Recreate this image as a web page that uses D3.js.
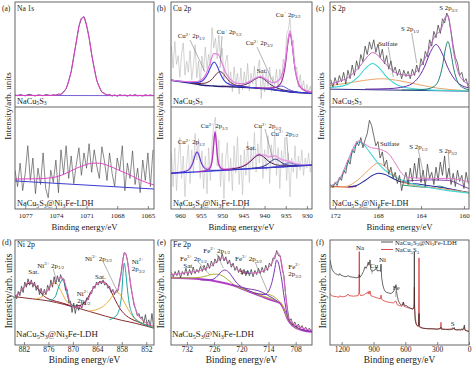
<!DOCTYPE html>
<html><head><meta charset="utf-8">
<script src="https://cdn.jsdelivr.net/npm/d3@7/dist/d3.min.js"></script>
<style>body{margin:0;background:#fff}svg text{font-family:"Liberation Serif","DejaVu Serif",serif;white-space:pre;fill:#222}</style>
</head><body><script>
// ---------------- DATA (normalised intensity, arb. units 0-100 per sub-panel) ----------------
const ticksA=[1077,1074,1071,1068,1065], ticksB=[960,955,950,945,940,935,930], ticksC=[172,168,164,160];
const ticksD=[882,876,870,864,858,852], ticksE=[732,726,720,714,708], ticksF=[1200,900,600,300,0];
const gridNaTop=[1078,-0.25], gridNaBot=[1078,-0.25], gridCuTop=[962,-0.4], gridCuBot=[962,-0.4];
const gridSTop=[172.4,-0.2], gridSBot=[172.4,-0.2], gridNi=[884.2,-0.4], gridFe=[735.4,-0.4];
// (a) Na 1s
const rawNaTop=[11.5,10.8,11.9,11.2,10.6,11.8,12.1,11.0,10.5,11.6,11.3,10.7,11.9,11.4,10.9,11.7,11.3,12.4,12.0,14.9,17.2,25.0,33.5,48.6,61.8,77.0,84.0,86.2,77.5,66.3,49.8,37.5,25.1,19.4,14.0,13.1,11.2,12.0,10.4,11.5,10.2,11.8,10.9,11.4,10.3,11.6,10.8,11.9,10.6,11.2,10.4,11.7,10.9,11.5,10.8];
const fitNaTop=[[1078,11],[1074.5,11],[1074,11.2],[1073.75,11.5],[1073.5,12.2],[1073.25,14],[1073,17.7],[1072.75,24.1],[1072.5,34.2],[1072.25,47.5],[1072,62.5],[1071.75,76],[1071.5,84.5],[1071.25,85.3],[1071,78.3],[1070.75,65.5],[1070.5,50.5],[1070.25,36.6],[1070,25.8],[1069.75,18.7],[1069.5,14.6],[1069.25,12.5],[1069,11.6],[1068.5,11.1],[1068,11],[1064.4,11]];
const baseNaTop=[[1078,11],[1064.4,10.8]];
const rawNaBot=[38,22,45,18,35,62,28,50,15,40,24,55,20,11,38,26,48,16,58,34,62,30,52,25,44,60,33,55,40,64,36,58,42,30,61,47,28,55,35,22,50,38,62,18,45,30,57,24,40,16,48,28,55,22,58];
const fitNaBot=[[1078,29.4],[1076,29.6],[1074.5,30.5],[1073.5,33],[1072.5,37.5],[1071.5,42],[1070.5,44.8],[1070,45],[1069.5,44.5],[1068.5,41],[1067.5,36.5],[1067,34.5],[1066,29.5],[1065,25.5],[1064.4,23.5]];
const baseNaBot=[[1078,27.5],[1064.4,19.6]];
// (b) Cu 2p
const rawCuTop=[57.7,37.1,62.4,40.6,48.9,28.2,50.6,61,30.4,43.7,33.1,53.6,26.1,39.7,59.2,27.8,43.8,20.8,48.5,34.6,57.1,36.6,50.1,39.9,75.5,56.3,65.6,45.9,68.4,45.2,56.1,26.6,43.2,49.5,22.6,33.5,14.8,38.2,20.9,32.1,12.3,37.2,16.2,33.5,21,41.5,15.3,32,21.9,39,16.8,36.3,44.8,8,31.9,14.25,36,20,38.2,14.6,29.2,20.6,36.1,16.9,35.9,25.6,45.6,36.6,69.2,73.4,84.5,58.3,63.4,33.3,38,19,30.7,16.6,25.1,13.3,21.5,14.1,19.8,12.35];
const envCuTop=[[962.1,25.7],[960,24.7],[958,24.1],[956,24.3],[955,25.6],[954,30.1],[953,40.1],[952,50.8],[951,50.2],[950,41.1],[949,31.2],[948,26],[947,23.1],[946,22.25],[945,22.2],[944,23.5],[943,25.35],[942,27.8],[941,28.85],[940,27.25],[939,24.5],[938,23.15],[937,24.4],[936,29.6],[935.5,35.95],[935,47.25],[934.5,63.55],[934,72.55],[933.5,61.65],[933,43.2],[932.5,30.5],[932,23],[931,17.5],[930,15.5],[928.8,14.35]];
const baseCuTop=[[962.1,25.5],[958,23],[955,21],[952,20],[948,19.2],[944,18.5],[940,17.5],[936,15.5],[933,14],[928.8,13]];
const cu2p12Top=[[962.1,25.5],[960.9,25.0],[957.9,23.6],[956.4,23.3],[954.9,24.4],[954.15,27.1],[953.4,31.9],[952.65,38.9],[951.9,42.8],[951.15,38.5],[950.4,31.1],[949.65,25.9],[948.9,22.8],[947.4,20.5],[945.9,19.5],[942.9,18.5],[938,16.5],[933,14],[928.8,13]];
const cu1p12Top=[[957.5,23.1],[955.75,22.3],[954,22.8],[953.1,24.3],[952.25,27.1],[951.4,31.4],[950.5,33.7],[949.6,31.0],[948.75,26.4],[947.9,23.1],[947,21.1],[945.25,19.6],[943.5,18.8]];
const satCuTop=[[950.1,19.8],[947.85,19.8],[945.6,20.4],[944.5,21.5],[943.35,23.6],[942.2,26.6],[941.1,28.3],[940,26.1],[938.85,22.2],[937.7,19.3],[936.6,17.4],[934.35,15.4],[932.1,14.1]];
const cu2p32Top=[[940.4,17.9],[938.9,17.7],[937.4,18.45],[936.65,19.5],[935.9,19.95],[935.15,18.8],[934.4,16.95],[932.9,14.7],[931.4,13.9]];
const cu1p32Top=[[942,18.3],[940,18.05],[938,18.2],[937,19.3],[936,23.8],[935.5,30.75],[935,42.75],[934.5,60.25],[934,70],[933.5,59.75],[933,41.75],[932.5,29.4],[932,22.1],[931,16.8],[930,15],[928.8,13.9]];
const rawCuBot=[55,22,60,18,47,70,30,52,12,44,63,25,58,35,74,48,69,30,57,20,52,15,60,28,66,82,90,42,68,22,55,10,48,65,27,50,18,62,35,71,24,53,14,58,33,66,26,61,40,75,36,64,45,80,30,58,38,72,25,63,44,78,33,60,20,57,40,70,28,55,12,50,36,62,30,52,38,58,33,50,40,55,36,48];
const envCuBot=[[962.1,35.2],[959,36.7],[958,38.5],[957.5,41.2],[957,45.5],[956.5,52.5],[955.95,56.1],[955.5,52.9],[955,46.2],[954.5,42.2],[954,40.1],[953.5,39.7],[953,40.7],[952.6,43.8],[952.3,51.4],[952,65.4],[951.7,76],[951.4,65.5],[951.1,51.4],[950.8,43.8],[950.4,41],[950,39.85],[949,39.3],[948,39.6],[947,40.1],[946,40.9],[945,42.3],[944,44.8],[943,48.5],[942,52.2],[941.3,53.9],[940.5,53],[940,52.8],[939,51.2],[938,51.9],[937.5,52.1],[937,51.1],[936,48.5],[935,47.45],[934.4,47.2],[934,46.5],[933,44.9],[932,43.8],[931,43.4],[930,43.3],[928.8,43.4]];
const baseCuBot=[[962.1,35],[928.8,43]];
const cu2p12BotA=[[962.1,35.1],[961.35,35.4],[959.55,36.2],[958.65,37.0],[957.75,38.9],[957.3,41.65],[956.85,46.0],[956.4,52.4],[955.95,56.0],[955.5,52.6],[955.05,46.4],[954.6,42.3],[954.15,39.8],[953.25,38.3],[952.35,37.9],[950.55,38.0],[945,39.3],[935,41.5],[928.8,43]];
const cu2p12BotB=[[955.7,36.6],[954.4,37.25],[953.5,38.2],[953.05,39.5],[952.6,43.0],[952.37,47.9],[952.15,56.4],[951.92,68.6],[951.7,75.5],[951.48,68.75],[951.25,56.6],[951.03,48.3],[950.8,43.4],[950.35,40.1],[949.9,39.0],[949.0,38.5],[947.7,38.6]];
const satCuBot=[[950.1,38.3],[947.9,39.2],[945.7,40.9],[944.6,42.8],[943.5,46.0],[942.4,50.4],[941.3,53.0],[940.2,51.0],[939.1,47.0],[938.0,44.4],[936.9,43.0],[934.7,42.35],[932.5,42.5]];
const cu2p32BotA=[[943.9,39.6],[942.3,40.2],[940.7,41.3],[939.9,42.6],[939.1,44.5],[938.3,47.3],[937.5,48.9],[936.7,47.7],[935.9,45.3],[935.1,43.7],[934.3,42.9],[932.7,42.5],[931.1,42.7]];
const cu2p32BotB=[[940.4,40.3],[938.9,40.8],[937.4,41.5],[936.65,42.1],[935.9,43.05],[935.15,44.4],[934.4,45.2],[933.65,44.7],[932.9,43.8],[932.15,43.2],[931.4,42.9],[929.9,42.9],[928.8,43.1]];
// (c) S 2p
const rawSTop=[26,19,28,21,30,24,33,22,35,27,40,30,44,36,50,43,58,50,62,55,64,52,60,47,55,41,49,36,44,33,38,30,36,27,35,29,34,27,36,30,40,33,46,40,53,48,64,58,72,66,78,70,84,80,89.5,84,72,58,47,42,30,33,24,27,19];
const envSTop=[[172.47,22.1],[172,23],[171.5,24.95],[171,26.6],[170.5,30.4],[170,35.1],[169.5,41.25],[169,47.8],[168.5,51.85],[168,49.1],[167.5,43.3],[167,37.9],[166.5,33.35],[166,31.2],[165.5,30.45],[165,29.8],[164.5,33.0],[164,39.6],[163.5,48.75],[163,61.6],[162.5,70.1],[162.25,71.8],[162,77.45],[161.75,85.2],[161.5,87.35],[161.25,74.25],[161,54.7],[160.75,41.1],[160.5,32.15],[160,24.55],[159.53,21.6]];
const baseSTop=[[172.47,17],[159.53,15.1]];
const sulfTop=[[172.47,18.5],[171.1,20.6],[170.45,23.7],[169.8,29.1],[169.15,37],[168.5,41.4],[167.85,36.8],[167.2,28.7],[166.55,23.1],[165.9,19.75],[164.6,17.3],[163.3,16.35],[161,15.6],[159.53,15.3]];
const broadSTop=[[172.47,20.4],[170.5,23.3],[169.35,25.25],[167.6,26.9],[165.85,24.7],[164.1,21.05],[162.35,17.8],[160.6,16.1],[159.53,15.5]];
const s12Top=[[169.2,17.0],[167.0,17.5],[165.9,18.6],[164.8,22.45],[164.25,28.05],[163.7,37.7],[163.15,51.6],[162.6,59.5],[162.05,51.45],[161.5,37.4],[160.95,27.6],[160.4,21.8],[159.53,18.2]];
const s32Top=[[165.8,16.2],[164.5,16.3],[163.5,17.05],[163,18.4],[162.5,22.5],[162.25,28.7],[162,38.95],[161.75,53.9],[161.5,62.4],[161.25,53.85],[161,38.8],[160.75,28.45],[160.5,22.2],[160,17.95],[159.53,16.5]];
const rawSBot=[24,21,26,23,31,28,38,35,48,44,58,55,66,62,70,60,68,74,87,82,72,62,66,50,56,42,48,34,41,30,36,25,33,18,28,36,24,40,27,45,30,50,26,38,22,44,30,36,24,41,28,46,33,52,29,40,24,35,22,38,27,33,20,36,25];
const envSBot=[[172.47,22.5],[171.5,31],[170.8,48],[170.2,62],[169.8,67],[169.3,64],[168.6,60],[168,59],[167,54],[166.4,45],[165.8,35],[165.2,31],[164.6,30.5],[163,30],[161.5,30],[160.8,29.5],[159.53,26.5]];
const sulfBot=[[172.47,22],[171.5,30],[170.8,45],[170.2,60],[169.8,65.7],[169.4,64],[168.8,56],[168,45],[167.35,38],[166.5,32],[165.8,28.4],[164.6,24],[163,20.6],[161.5,18],[159.53,15.7]];
const broadSBot=[[172.47,21.5],[171,22],[170.2,26],[169.4,33],[168.6,41],[168,45],[167.4,42],[166.6,34],[165.8,27],[165,24],[163,21],[161,18.5],[159.53,16]];
const navySBot=[[170.8,21.5],[170,23],[169.2,28],[168.5,33],[168,35],[167.4,34],[166.6,30],[165.8,26.5],[164,24],[162,21],[160,17],[159.53,16]];
const redSBot=[[172.47,22.5],[171.5,21.8],[170.8,21.5],[170,22]];
const s12Bot=[[165.8,27],[164.6,28],[163,28.5],[161.5,28],[160.8,26],[160,22],[159.53,20]];
const s32Bot=[[165.8,23.5],[164.5,22],[163,21],[162.3,22.5],[161.5,20],[160.5,17.5],[159.53,15.7]];
// (d) Ni 2p
const rawNi=[47,44,51,47,56,50,60,55,63,57,62,55,60,52,57,48,54,47,53,48,57,52,62,55,65,58,66,60,67,62,63,52,53,40,42,31,40,30,39,33,38,35,41,38,45,43,50,49,56,54,60,57,61,58,62,57,59,54,56,50,53,48,52,51,60,68,80,88,87,80,68,56,47,38,34,28,30,25,27,21,29,19,24,18,30,17];
const envNi=[[884.2,46],[883,50],[882,55],[880.8,60],[879.5,58],[878,52],[877,50],[876.3,51],[875.5,56],[874.4,61],[873.2,64],[872.6,64],[872,60],[871.2,48],[870.5,38],[869.5,36],[868,36.5],[867,40],[866,46],[865,54],[863.8,59],[862.6,60],[861.5,57],[860.5,52],[859.6,50],[859,52],[858.5,60],[858,72],[857.6,84],[857.3,88],[856.8,84],[856.3,72],[855.7,55],[855,40],[854.2,30],[853,24],[852,21],[850.1,18]];
const baseNi=[[884.2,46],[880,44],[876,42],[872,38.5],[870,36.5],[866,32],[862,27.5],[858,23.5],[855,21],[850.1,16]];
const sat1Ni=[[884.2,46.5],[883,50],[882,55],[881,58.5],[880.3,59],[879.5,57.5],[878.5,53],[877.5,48],[876.5,45],[875,42.5],[873,40.5],[871,38]];
const ni3p12=[[879,44],[877.5,46],[876.5,50],[875.6,56],[874.8,59],[874.2,59],[873.4,55],[872.6,49],[871.8,43],[871,39.5],[869.5,37]];
const ni2p12=[[876,42.5],[875,43.5],[874.2,47],[873.6,54],[873,60],[872.6,62],[872.1,59],[871.6,51],[871,43],[870.3,38.5],[869,36.5]];
const sat2Ni=[[872,39],[870,37],[868,38],[866.5,44],[865.5,51],[864.5,56.5],[863.3,60],[862.4,60],[861.5,57],[860.5,50],[859.5,42],[858.5,35],[857.5,30],[856,25.5],[854,22],[851,17.5]];
const ni3p32=[[866,32.5],[864,34],[862.5,37],[861,43],[860,48],[859.3,50],[858.6,49],[857.8,44],[857,38],[856,31],[855,26],[853.5,22],[851.5,18.5],[850.1,17]];
const ni2p32=[[861,24],[860,26],[859,30],[858.5,36],[858,50],[857.7,68],[857.4,78],[857.1,72],[856.7,56],[856.2,40],[855.5,30],[854.5,24],[853,20.5],[851,17.5],[850.1,16.5]];
// (e) Fe 2p
const rawFe=[69,65,70,66,71,64,70,67,73,66,72,67,74,68,72,69,75,70,76,71,78,73,80,75,82,78,85,80,87,80,84,77,81,74,78,71,75,69,73,67,72,66,71,66,72,65,71,67,73,68,74,69,76,71,78,75,83,82,90,85,85,73,66,47,34,23,25,19,22,17,20,16,18.5,14.5,17,14,16,13.5];
const envFe=[[735.5,67],[734,67.5],[732,69],[730,70],[728,72.5],[726.5,76],[725.2,80],[724.3,83],[723.3,81],[722,76],[721,72],[720,70],[719,69],[717.5,68.5],[716,69.5],[714.8,71],[713.7,75],[713,80],[712.5,86],[712.1,88.5],[711.6,86],[711.1,78],[710.6,64],[710.2,48],[709.7,28],[709.2,23],[708.2,19.5],[707,17],[705.5,15],[704.4,14]];
const baseFe=[[735.5,64],[730,63],[726,61],[722,57],[719,52],[716,47],[713.5,43],[711.5,40],[710.6,34],[709.8,25],[708.7,18.5],[706.5,14],[704.4,12.5]];
const fe3p12=[[735.5,64],[731,64],[729,64.5],[727.5,66],[726.5,67.3],[725.5,67.5],[724.5,66.5],[723.5,64],[722.5,60.5],[721.5,57],[720,54],[718,51],[716,47.5],[714,45],[712,41.5]];
const fe2p12=[[729,62],[727,62],[726,63],[725.2,66],[724.5,69.5],[723.7,71.4],[722.8,69.5],[722,65],[721,59],[720,55.5],[718.5,52],[716.5,48.5]];
const satFe=[[722,57.5],[720,55],[718.5,53.5],[717,52.5],[715.5,50.5],[714,47],[713,44.5],[712,41.5]];
const fe3p32=[[720,54.2],[718,51],[716.5,49],[715.3,48.5],[714.3,48.2],[713.5,47.6],[712.6,45.5],[711.8,42.5],[711,38.5],[710.3,31],[709.6,24],[708.7,19],[707,15]];
const fe2p32=[[717,49.5],[716,48.5],[715,48],[714.2,50],[713.5,56],[713,64],[712.6,73],[712.2,81],[711.8,78],[711.4,70],[711,60],[710.6,47],[710.2,36],[709.8,27.5],[709.2,22],[708.2,18],[706.5,14.5],[704.4,12.8]];
// (f) survey
const survLDH=[[1310,81],[1300,76],[1290,72],[1280,70],[1260,68],[1240,67],[1225,66.5],[1218,68],[1208,66.5],[1180,65.5],[1160,65],[1140,66],[1120,65],[1090,64.5],[1060,64],[1040,64.5],[1034,67],[1028,64.5],[1010,67],[995,70],[980,74.5],[970,73],[960,75],[950,79],[943,76],[938,78],[933,81],[926,72],[915,70],[900,71],[885,71.5],[872,74],[865,70.5],[845,71],[835,70],[829,77],[823,64],[812,57],[800,53],[790,51],[775,50],[755,49.5],[735,49],[715,50.5],[700,53],[693,56],[688,57.5],[683,51],[675,46],[665,42],[650,39],[635,38],[625,38.5],[618,41],[611,38],[590,37.5],[570,36],[550,35],[530,34],[520,35.5],[517,40],[515,89],[513,38],[508,24],[498,20],[485,18.5],[475,19],[471,30],[468,18],[455,17],[430,16],[390,15.5],[350,15.5],[300,15],[268,16],[264,17],[260,15],[220,14.8],[180,14.5],[145,15.5],[140,16.5],[135,14.8],[110,14.3],[90,15],[80,14.2],[70,15.5],[60,14],[50,16],[44,19],[38,14.5],[25,13.6],[10,13.2],[0,13]];
const survNCS=[[1310,49],[1295,47],[1280,46.5],[1250,46],[1225,45.5],[1218,47],[1208,46],[1180,46],[1150,47],[1140,48.5],[1130,47],[1090,46.5],[1045,47],[1037,50],[1034,89],[1031,49],[1022,47],[1000,47.5],[985,48],[970,49.5],[960,49],[950,51],[943,48.5],[933,51.5],[925,47],[900,46],[870,45],[835,44],[829,47.5],[823,43.5],[800,42],[770,41],[740,40.5],[710,40],[692,42],[685,41],[677,38.5],[655,37.5],[632,37],[620,40.5],[613,37],[590,36],[560,35],[535,34.5],[522,35],[517,38],[515,55],[513,36],[508,28],[498,20],[488,18],[476,17.5],[471,83],[467,17],[445,16],[390,15.5],[320,15.3],[275,15.2],[267,16],[264,21.6],[261,15.5],[220,15],[150,15.4],[140,16.5],[132,14.6],[80,14.2],[50,15.5],[44,17],[38,14],[15,13.4],[0,13]];
const sampleTop='NaCu_{5}S_{3}', sampleLDH='NaCu_{5}S_{3}@Ni_{3}Fe-LDH';

// ---------------- LAYOUT ----------------
const FONT='"Liberation Serif","DejaVu Serif",serif';
const W=474,H=366;
const svg=d3.select('body').append('svg').attr('width',W).attr('height',H).attr('font-family',FONT);
const COL={a:[15,154],b:[171,312],c:[330,469]};
const ROW={top:[2,107],bot:[107,209],r2:[240,345]};
const defs=svg.append('defs');
let clipN=0;
function sub(col,row,dom){
  const x=d3.scaleLinear().domain(dom).range(COL[col]);
  const y=d3.scaleLinear().domain([0,100]).range([ROW[row][1],ROW[row][0]]);
  const id='clip'+(clipN++);
  defs.append('clipPath').attr('id',id).append('rect').attr('x',COL[col][0]).attr('y',ROW[row][0]).attr('width',COL[col][1]-COL[col][0]).attr('height',ROW[row][1]-ROW[row][0]);
  return {x,y,id};
}
const grid=(g,arr)=>arr.map((v,i)=>[g[0]+g[1]*i,v]);
function draw(s,data,color,w,curve){
  const line=d3.line().x(d=>s.x(d[0])).y(d=>s.y(d[1])).curve(curve||d3.curveMonotoneX);
  svg.append('path').attr('d',line(data)).attr('fill','none').attr('stroke',color).attr('stroke-width',w).attr('stroke-linejoin','round').attr('clip-path',`url(#${s.id})`);
}
function rich(x,y,str,size,opt={}){
  const t=svg.append('text').attr('x',x).attr('y',y).attr('font-size',size).attr('font-family',FONT);
  if(opt.rotate) t.attr('transform',`rotate(-90,${x},${y})`);
  if(opt.anchor) t.attr('text-anchor',opt.anchor);
  const toks=str.split(/(\^\{[^}]*\}|_\{[^}]*\})/).filter(s=>s.length);
  let shift=0;
  toks.forEach(tok=>{
    let kind='n',txt=tok;
    if(tok.startsWith('^{')){kind='sup';txt=tok.slice(2,-1);} else if(tok.startsWith('_{')){kind='sub';txt=tok.slice(2,-1);}
    const target=kind==='sup'?-0.36*size:kind==='sub'?0.24*size:0;
    t.append('tspan').text(txt).attr('dy',target-shift).attr('font-size',kind==='n'?size:size*0.68);
    shift=target;
  });
  return t;
}
function frame(col,rows,ticks,s,fs,pad,titleY,titleFs,ytX,ytY,ytFs){
  const [x0,x1]=COL[col]; const y0=ROW[rows[0]][0], y1=ROW[rows[rows.length-1]][1];
  const ax=svg.append('g').attr('transform',`translate(0,${y1})`).call(d3.axisBottom(s.x).tickValues(ticks).tickSize(-3).tickPadding(pad).tickFormat(d3.format('d')));
  ax.attr('font-family',FONT);
  ax.select('.domain').remove();
  ax.selectAll('line').attr('stroke','#555').attr('stroke-width',0.7);
  ax.selectAll('text').attr('font-family',FONT).attr('font-size',fs).attr('fill','#222');
  svg.append('rect').attr('x',x0).attr('y',y0).attr('width',x1-x0).attr('height',y1-y0).attr('fill','none').attr('stroke','#555').attr('stroke-width',0.9);
  if(rows.length>1) svg.append('line').attr('x1',x0).attr('x2',x1).attr('y1',ROW.top[1]).attr('y2',ROW.top[1]).attr('stroke','#555').attr('stroke-width',0.9);
  rich((x0+x1)/2,titleY,'Binding energy/eV',titleFs,{anchor:'middle'});
  rich(ytX,ytY,'Intensity/arb. units',ytFs,{anchor:'middle',rotate:true});
}

// ---------------- PANEL (a) ----------------
const aT=sub('a','top',[1078,1064.4]), aB=sub('a','bot',[1078,1064.4]);
draw(aT,grid(gridNaTop,rawNaTop),'#5a2a7a',0.8,d3.curveLinear);
draw(aT,baseNaTop,'#6a4fd0',0.9);
draw(aT,fitNaTop,'#d93fc0',1.0);
draw(aB,grid(gridNaBot,rawNaBot),'#4a4a4a',0.65,d3.curveLinear);
draw(aB,baseNaBot,'#3a3ad0',1.0);
draw(aB,fitNaBot,'#e044c8',1.0);
frame('a',['top','bot'],ticksA,aB,7,4.5,230,8.7,11,106,9);

// ---------------- PANEL (b) ----------------
const bT=sub('b','top',[962.1,928.8]), bB=sub('b','bot',[962.1,928.8]);
draw(bT,grid(gridCuTop,rawCuTop),'#b5b5b5',0.6,d3.curveLinear);
draw(bT,baseCuTop,'#1e1e78',1.4);
draw(bT,satCuTop,'#4b2464',1.0);
draw(bT,cu1p12Top,'#6b2838',1.0);
draw(bT,cu2p12Top,'#3d3de0',1.1);
draw(bT,cu2p32Top,'#4040d0',0.9);
draw(bT,cu1p32Top,'#a0289e',1.1);
draw(bT,envCuTop,'#e57ee0',1.2);
draw(bB,grid(gridCuBot,rawCuBot),'#bdbdbd',0.6,d3.curveLinear);
draw(bB,envCuBot,'#eaa0e6',1.6);
draw(bB,baseCuBot,'#3434d8',1.2);
draw(bB,satCuBot,'#4a1f4f',1.0);
draw(bB,cu2p32BotA,'#2b2b8c',1.0);
draw(bB,cu2p32BotB,'#6060c8',0.9);
draw(bB,cu2p12BotA,'#3636c8',1.0);
draw(bB,cu2p12BotB,'#b030b8',1.1);
frame('b',['top','bot'],ticksB,bB,7,4.5,230,8.7,163,106,9);

// ---------------- PANEL (c) ----------------
const cT=sub('c','top',[172.47,159.53]), cB=sub('c','bot',[172.47,159.53]);
draw(cT,baseSTop,'#2e2e8c',1.0);
draw(cT,broadSTop,'#eaa66a',1.0);
draw(cT,sulfTop,'#3fd6d6',1.1);
draw(cT,s12Top,'#6a2aa8',1.0);
draw(cT,s32Top,'#1f7f78',1.0);
draw(cT,grid(gridSTop,rawSTop),'#404040',0.75,d3.curveLinear);
draw(cT,envSTop,'#c263c6',1.0);
draw(cB,redSBot,'#c82828',1.0);
draw(cB,s32Bot,'#2aa07a',1.0);
draw(cB,s12Bot,'#8a44c0',1.0);
draw(cB,navySBot,'#2a2aa0',1.1);
draw(cB,broadSBot,'#eaa060',1.0);
draw(cB,sulfBot,'#45d8d8',1.1);
draw(cB,grid(gridSBot,rawSBot),'#404040',0.75,d3.curveLinear);
draw(cB,envSBot,'#e07ac8',1.0);
frame('c',['top','bot'],ticksC,cB,7,4.5,230,8.7,323.5,106,9);

// ---------------- PANEL (d) ----------------
const dP=sub('a','r2',[884.2,850.1]);
draw(dP,baseNi,'#8a3030',1.0);
draw(dP,sat1Ni,'#8e1e2e',1.0);
draw(dP,sat2Ni,'#8e1e2e',1.0);
draw(dP,ni3p12,'#e8b040',1.0);
draw(dP,ni3p32,'#e8b040',1.0);
draw(dP,ni2p12,'#1fa3a3',1.0);
draw(dP,ni2p32,'#1fa3a3',1.0);
draw(dP,grid(gridNi,rawNi),'#3c3c3c',0.75,d3.curveLinear);
draw(dP,envNi,'#e25fc6',1.0);
frame('a',['r2'],ticksD,dP,7.5,1.8,363,9.4,12,291,10);

// ---------------- PANEL (e) ----------------
const eP=sub('b','r2',[735.5,704.4]);
draw(eP,baseFe,'#b53ec8',2.0);
draw(eP,fe3p12,'#a9b436',1.0);
draw(eP,fe3p32,'#a9b436',1.0);
draw(eP,satFe,'#7b33b6',1.0);
draw(eP,fe2p12,'#7b33b6',1.0);
draw(eP,fe2p32,'#7b33b6',1.0);
draw(eP,grid(gridFe,rawFe),'#3c3c3c',0.75,d3.curveLinear);
draw(eP,envFe,'#e25fc6',1.0);
frame('b',['r2'],ticksE,eP,7.5,1.8,363,9.4,164,291,10);

// ---------------- PANEL (f) ----------------
const fP=sub('c','r2',[1310,0]);
draw(fP,survNCS,'#d42020',0.7,d3.curveLinear);
draw(fP,survLDH,'#2a2a2a',0.7,d3.curveLinear);
frame('c',['r2'],ticksF,fP,7.5,1.8,363,9.4,326,291,10);
svg.append('line').attr('x1',381).attr('x2',393).attr('y1',242).attr('y2',242).attr('stroke','#2a2a2a').attr('stroke-width',0.8);
svg.append('line').attr('x1',381).attr('x2',393).attr('y1',249.5).attr('y2',249.5).attr('stroke','#d42020').attr('stroke-width',0.8);
rich(395,244.5,sampleLDH,6.7);
rich(395,252,sampleTop,6.7);

// ---------------- ANNOTATIONS ----------------
const labels=[
 [2,10.5,'(a)',7.5],[17,10.5,'Na 1s',7.5],[157,10.5,'(b)',7.5],[173,10.5,'Cu 2p',7.5],[316,10.5,'(c)',7.5],[332,10.5,'S 2p',7.5],
 [17,103.5,sampleTop,8.3],[17,206,sampleLDH,8.3],[173,103.5,sampleTop,8.3],[173,206,sampleLDH,8.3],[332,103.5,sampleTop,8.3],[332,206,sampleLDH,8.3],
 [2,244.5,'(d)',8],[17,247,'Ni 2p',8],[157,244.5,'(e)',8],[173,247,'Fe 2p',8],[316,244.5,'(f)',8],
 [16,336.5,sampleLDH,8.9],[172,336.5,sampleLDH,8.9],
 [275.7,16.5,'Cu^{+} 2p_{3/2}',6.8],[177.7,38,'Cu^{2+} 2p_{1/2}',6.8],[216.7,34,'Cu^{+} 2p_{1/2}',6.8],[245.7,45,'Cu^{2+} 2p_{3/2}',6.8],[256.7,72.5,'Sat.',6.8],
 [177.7,144,'Cu^{2+} 2p_{1/2}',6.8],[200.7,128,'Cu^{2+} 2p_{1/2}',6.8],[254,128,'Cu^{2+} 2p_{3/2}',6.8],[271,135.5,'Cu^{2+} 2p_{3/2}',6.8],[246,150,'Sat.',6.8],
 [439.3,10,'S 2p_{3/2}',6.8],[401,31,'S 2p_{1/2}',6.8],[378.3,46,'Sulfate',6.8],
 [380,145.5,'Sulfate',6.8],[409.3,149,'S 2p_{1/2}',6.8],[439,153,'S 2p_{3/2}',6.8],
 [28.3,274.3,'Sat.',7],[37.3,267.5,'Ni^{3+} 2p_{1/2}',7],[76.7,296,'Ni^{2+}',7],[77.3,303,'2p_{1/2}',7],[95,279,'Sat.',7],[85,260.5,'Ni^{3+} 2p_{3/2}',7],[131.7,263.5,'Ni^{2+}',7],[131.7,271,'2p_{3/2}',7],
 [180,261,'Fe^{3+} 2p_{1/2}',7],[183.3,267.5,'Sat.',7],[203.3,252.7,'Fe^{2+} 2p_{1/2}',7],[240,274,'Sat.',7],[235,261,'Fe^{3+} 2p_{3/2}',7],[288.3,269,'Fe^{2+}',7],[288.3,276,'2p_{3/2}',7],
 [356,250,'Na',7],[370,268,'Cu',7],[379,262,'Ni',7],[392.7,290,'Fe',7],[450.7,326,'S',7]
];
labels.forEach(l=>rich(l[0],l[1],l[2],l[3]));
const leaders=[[190,40,205,72],[222,36,220,68],[257,47,273,82],[265,129,273,160],[286.7,137,288.3,160],
 [411.7,33,416.7,63],[388.3,47,393.3,77],[418.3,150,423.3,173],[448.3,154,450,175],
 [53.3,269,56.7,282],[103.3,262,116.7,290],[198.3,262,210,275],[216.7,254,223.3,268],[255,262,268.3,293],
 [381,264,381,271],[372,269,372,274],[395.7,291,395.7,297],[452.3,327,452.3,330]];
leaders.forEach(l=>svg.append('line').attr('x1',l[0]).attr('y1',l[1]).attr('x2',l[2]).attr('y2',l[3]).attr('stroke','#666').attr('stroke-width',0.5));
</script></body></html>
